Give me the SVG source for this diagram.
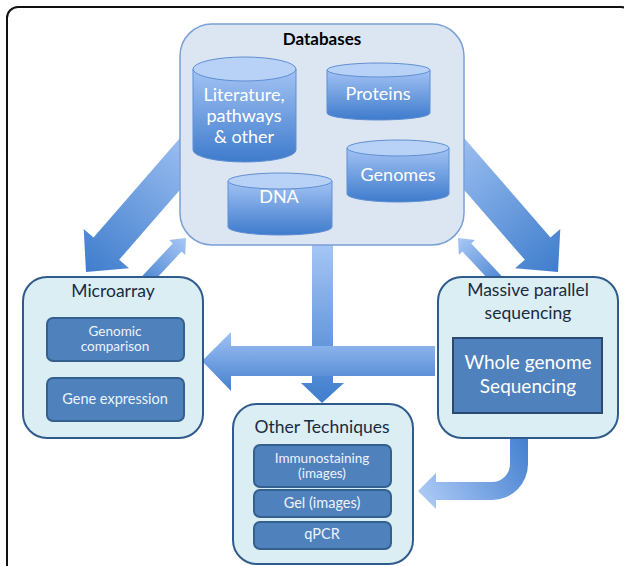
<svg xmlns="http://www.w3.org/2000/svg" width="624" height="566" viewBox="0 0 624 566">
<defs>
<linearGradient id="gAlong" x1="0" y1="0" x2="1" y2="0"><stop offset="0" stop-color="#a9c8f6"/><stop offset="1" stop-color="#3f7dcc"/></linearGradient>
<linearGradient id="gAlongR" x1="0" y1="0" x2="1" y2="0"><stop offset="0" stop-color="#3f7dcc"/><stop offset="1" stop-color="#a9c8f6"/></linearGradient>
<linearGradient id="gDown" x1="0" y1="0" x2="0" y2="1"><stop offset="0" stop-color="#a9c8f6"/><stop offset="1" stop-color="#3f7dcc"/></linearGradient>
<linearGradient id="gHoriz" x1="0" y1="0" x2="0" y2="1"><stop offset="0" stop-color="#a0c2f4"/><stop offset="1" stop-color="#4580cf"/></linearGradient>
<linearGradient id="gCurve" gradientUnits="userSpaceOnUse" x1="528" y1="440" x2="420" y2="500"><stop offset="0" stop-color="#4580cf"/><stop offset="1" stop-color="#aecbf6"/></linearGradient>
<linearGradient id="gCyl" x1="0" y1="0" x2="0" y2="1"><stop offset="0" stop-color="#a3c3f4"/><stop offset="1" stop-color="#3e7bcc"/></linearGradient>
</defs>
<style>
.frame{fill:#fff;stroke:#111;stroke-width:2}
.db{fill:#dce6f2;stroke:#7aa0d6;stroke-width:1.5}
.grp{fill:#dbeef4;stroke:#2f5b8c;stroke-width:2}
.inner{fill:#4f81bd;stroke:#34608f;stroke-width:2}
.cylb{fill:url(#gCyl);stroke:#5f8fd2;stroke-width:1}
.cylt{fill:#b8d1f6;stroke:#5f8fd2;stroke-width:1}
text{font-family:Lato,"Open Sans","Liberation Sans",sans-serif;text-anchor:middle}
.title{font-size:17.5px;fill:#1a2a40}
.wt{fill:#ffffff;font-size:18px}
.it{fill:#eef3fa;font-size:13.5px}
</style>
<rect class="frame" x="7" y="7" width="625" height="600" rx="11"/>
<g id="connectors">
<polygon transform="translate(86,272) rotate(131)" fill="url(#gAlong)" points="0,0 -31,-30 -31,-17 -190,-17 -190,17 -31,17 -31,30"/>
<polygon transform="translate(558,272) rotate(49)" fill="url(#gAlong)" points="0,0 -31,-30 -31,-17 -190,-17 -190,17 -31,17 -31,30"/>
<polygon transform="translate(186,238) rotate(-47)" fill="url(#gAlongR)" points="0,0 -13,-11 -13,-6 -70,-6 -70,6 -13,6 -13,11"/>
<polygon transform="translate(458,238) rotate(-133)" fill="url(#gAlongR)" points="0,0 -13,-11 -13,-6 -70,-6 -70,6 -13,6 -13,11"/>
<polygon fill="url(#gDown)" points="312,240 333,240 333,383 344,383 322,403 301,383 312,383"/>
<polygon fill="url(#gHoriz)" points="435,346 231,346 231,332 202,361 231,391 231,376 435,376"/>
<path fill="url(#gCurve)" d="M510,436 H528 V464 A36,36 0 0 1 492,500 H436 V509 L418,491 L436,473 V482 H492 A18,18 0 0 0 510,464 Z"/>
</g>
<g id="databases">
<rect class="db" x="180" y="24" width="284" height="221" rx="32"/>
<text x="322" y="45" style="font-weight:bold;font-size:17px;fill:#000">Databases</text>
<g id="db-literature">
<path class="cylb" d="M193,69 V150 A51.5,12 0 0 0 296,150 V69 Z"/>
<ellipse class="cylt" cx="244.5" cy="69" rx="51.5" ry="12"/>
<text class="wt" x="244" y="101">Literature,</text>
<text class="wt" x="244" y="122">pathways</text>
<text class="wt" x="244" y="143">&amp; other</text>
</g>
<g id="db-proteins">
<path class="cylb" d="M327,70 V113 A51.5,7 0 0 0 430,113 V70 Z"/>
<ellipse class="cylt" cx="378.5" cy="70" rx="51.5" ry="7"/>
<text class="wt" x="378" y="100">Proteins</text>
</g>
<g id="db-genomes">
<path class="cylb" d="M347,148 V194 A51,8 0 0 0 449,194 V148 Z"/>
<ellipse class="cylt" cx="398" cy="148" rx="51" ry="8"/>
<text class="wt" x="398" y="181">Genomes</text>
</g>
<g id="db-dna">
<path class="cylb" d="M228,181 V227 A52,8 0 0 0 332,227 V181 Z"/>
<ellipse class="cylt" cx="280" cy="181" rx="52" ry="8"/>
<text class="wt" x="279" y="203">DNA</text>
</g>
</g>
<g id="microarray">
<rect class="grp" x="23" y="277" width="180" height="161" rx="24"/>
<text class="title" x="113" y="297">Microarray</text>
<rect class="inner" x="47" y="318" width="137" height="43" rx="6"/>
<text class="it" x="115" y="336">Genomic</text>
<text class="it" x="115" y="351">comparison</text>
<rect class="inner" x="47" y="378" width="137" height="43" rx="6"/>
<text class="it" x="115" y="404" style="font-size:14.5px">Gene expression</text>
</g>
<g id="massive">
<rect class="grp" x="438" y="277" width="180" height="161" rx="24"/>
<text class="title" x="528" y="296">Massive parallel</text>
<text class="title" x="528" y="319">sequencing</text>
<rect x="453" y="338" width="149" height="75" style="fill:#4f81bd;stroke:#2c4a70;stroke-width:2"/>
<text class="wt" x="528" y="369" style="font-size:19px">Whole genome</text>
<text class="wt" x="528" y="393" style="font-size:19px">Sequencing</text>
</g>
<g id="other">
<rect class="grp" x="233" y="404" width="180" height="160" rx="24"/>
<text class="title" x="322" y="433">Other Techniques</text>
<rect class="inner" x="254" y="445" width="137" height="42" rx="6"/>
<text class="it" x="322" y="463">Immunostaining</text>
<text class="it" x="322" y="478">(images)</text>
<rect class="inner" x="254" y="490" width="137" height="27" rx="6"/>
<text class="it" x="322" y="508" style="font-size:14.5px">Gel (images)</text>
<rect class="inner" x="254" y="522" width="137" height="27" rx="6"/>
<text class="it" x="322" y="539" style="font-size:14.5px">qPCR</text>
</g>
</svg>
